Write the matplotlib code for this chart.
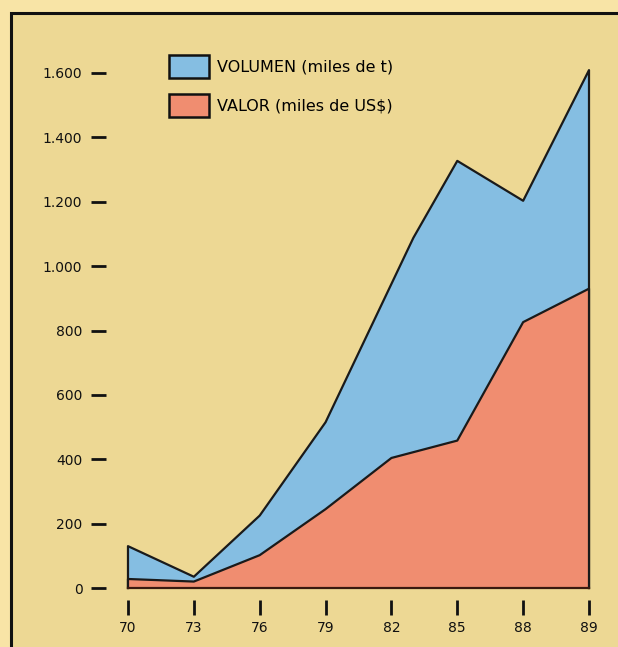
import matplotlib
matplotlib.use("Agg")
import matplotlib.pyplot as plt
import numpy as np
from matplotlib.patches import Patch, Rectangle

plt.rcParams['font.family'] = ['DejaVu Sans']

# Tick years (evenly spaced categories on the chart)
tick_years = [70, 73, 76, 79, 82, 85, 88, 89]
tick_labels = ["70", "73", "76", "79", "82", "85", "88", "89"]

# Volume (miles de t)
vol_years = [70, 73, 76, 79, 83, 85, 88, 89]
vol_values = [130, 35, 225, 515, 1088, 1327, 1203, 1609]

# Value (miles de US$)
val_years = [70, 73, 76, 79, 82, 85, 88, 89]
val_values = [28, 20, 102, 245, 404, 458, 826, 930]

y_ticks = [0, 200, 400, 600, 800, 1000, 1200, 1400, 1600]
y_labels = ["0", "200", "400", "600", "800", "1.000", "1.200", "1.400", "1.600"]

def pos(years):
    return np.interp(years, tick_years, np.arange(len(tick_years)))

W, H = 618, 647
fig = plt.figure(figsize=(W / 100, H / 100), dpi=100)
outer = "#F8E4A6"
inner = "#EDD894"
fig.patch.set_facecolor(outer)
# framed panel (only top and left edges visible in the crop)
fig.patches.append(Rectangle((11 / W, -0.5), 2, 1.5 - 13 / H, transform=fig.transFigure,
                             facecolor=inner, edgecolor="#111111", linewidth=2.2, zorder=-10))

left, right, bottom, top = 106, 600, 600, 60
ax = fig.add_axes([left / W, 1 - bottom / H, (right - left) / W, (bottom - top) / H])
ax.set_zorder(5)
ax.set_facecolor("none")

blue = "#85BEE2"
red = "#F08D70"

xv = pos(vol_years)
xr = pos(val_years)
ax.fill_between(xv, 0, vol_values, facecolor=blue, edgecolor="none", zorder=2)
ax.plot(np.r_[xv[0], xv, xv[-1]], np.r_[0, vol_values, 0], color="#1a1a1a", lw=1.6, zorder=3)
ax.fill_between(xr, 0, val_values, facecolor=red, edgecolor="none", zorder=4)
ax.plot(np.r_[xr[0], xr, xr[-1]], np.r_[0, val_values, 0], color="#1a1a1a", lw=1.6, zorder=5)
ax.plot([xv[0], xv[-1]], [0, 0], color="#3a1a10", lw=1.6, zorder=6)

px_x = 65.9
px_y = 515 / 1600
ax.set_xlim(-(128 - left) / px_x, 7 + (right - 589) / px_x)
ax.set_ylim(-(bottom - 588) / px_y, 1600 + (73 - top) / px_y)

for s in ax.spines.values():
    s.set_visible(False)

ax.set_xticks(np.arange(len(tick_years)))
ax.set_xticklabels(tick_labels, fontsize=10)
ax.set_yticks(y_ticks)
ax.set_yticklabels(y_labels, fontsize=10)
ax.tick_params(axis='y', direction='out', length=11, width=2, pad=6, colors="#111111")
ax.tick_params(axis='x', direction='out', length=11, width=2, pad=4, colors="#111111")

handles = [Patch(facecolor=blue, edgecolor="#111111", linewidth=1.8),
           Patch(facecolor=red, edgecolor="#111111", linewidth=1.8)]
ax.legend(handles, ["VOLUMEN (miles de t)", "VALOR (miles de US$)"],
          loc="upper left", bbox_to_anchor=((168 - 4 - left) / (right - left), 1 - (50 - top) / (bottom - top)),
          frameon=False, fontsize=11.5, handlelength=2.5, handleheight=1.9,
          labelspacing=0.95, handletextpad=0.5, borderpad=0.3, borderaxespad=0)

fig.savefig("out.png", dpi=100, facecolor=fig.get_facecolor())
